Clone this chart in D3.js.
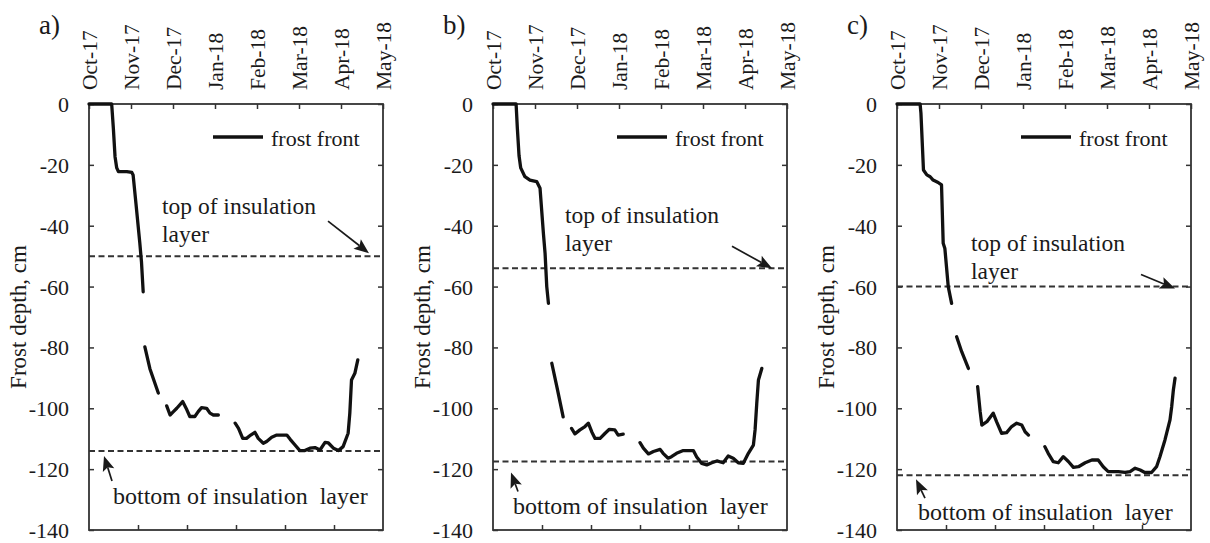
<!DOCTYPE html>
<html><head><meta charset="utf-8">
<script src="https://cdn.jsdelivr.net/npm/d3@7"></script>
<style>
body{margin:0;background:#fff}
svg{display:block;background:#fff}
svg text{font-family:"Liberation Serif","DejaVu Serif","Noto Serif",serif !important;fill:#1a1a1a}
</style>
</head><body>
<svg id="chart" width="1210" height="543"></svg>
<script>
// ---------------- data ----------------
const months = ["Oct-17","Nov-17","Dec-17","Jan-18","Feb-18","Mar-18","Apr-18","May-18"];
const depthTicks = [0,-20,-40,-60,-80,-100,-120,-140];
const panelLabels = ["a)","b)","c)"];
const topInsulation = [-50,-54,-60];        // cm
const bottomInsulation = [-114,-117.5,-122]; // cm
const legendLabel = "frost front";
const yTitle = "Frost depth, cm";
const topNote = ["top of insulation","layer"];
const bottomNote = "bottom of insulation  layer";

// frost front: [months since 1 Oct 2017, depth cm]; null = data gap
const frostA = [[0,0],[0.54,0],[0.58,-8],[0.62,-17.3],[0.66,-21],[0.70,-22.2],[0.90,-22.2],[1.02,-22.5],[1.05,-23.3],[1.12,-33],[1.21,-45.7],[1.25,-52],[1.29,-61.7],
  null,[1.33,-79.8],[1.45,-87],[1.65,-95],
  null,[1.85,-99.2],[1.93,-102.2],[2.01,-101.1],[2.09,-100],[2.23,-97.8],[2.33,-100.5],[2.40,-102.7],[2.52,-102.7],[2.60,-101.1],[2.68,-99.8],[2.80,-100],[2.88,-101.6],[2.96,-102.2],[3.08,-102.2],
  null,[3.48,-104.9],[3.56,-106.6],[3.66,-109.9],[3.75,-109.9],[3.85,-108.8],[3.95,-107.9],[4.03,-109.9],[4.15,-111.5],[4.23,-110.9],[4.35,-109.5],[4.47,-108.8],[4.71,-108.8],[4.79,-110.2],[4.90,-112],[5.02,-113.9],[5.14,-113.9],[5.26,-113.1],[5.38,-112.9],[5.50,-113.7],[5.62,-111.2],[5.70,-111.4],[5.82,-113.1],[5.94,-113.9],[6.05,-112.6],[6.17,-108.2],[6.21,-101.6],[6.25,-90.7],[6.33,-88.5],[6.40,-84.1]];

const frostB = [[0,0],[0.55,0],[0.58,-8],[0.62,-17],[0.66,-21],[0.76,-23.9],[0.88,-25],[1.04,-25.5],[1.12,-27.7],[1.20,-42.5],[1.24,-49.1],[1.28,-60],[1.32,-65.5],
  null,[1.40,-85.2],[1.52,-92.9],[1.67,-102.8],
  null,[1.87,-106.6],[1.95,-108.4],[2.07,-107.1],[2.19,-106],[2.27,-104.9],[2.35,-107.7],[2.43,-109.9],[2.55,-109.9],[2.67,-108.2],[2.77,-106.9],[2.90,-107.1],[2.98,-108.8],[3.10,-108.5],
  null,[3.50,-111.3],[3.58,-113.1],[3.70,-115],[3.82,-114.2],[3.98,-113.5],[4.05,-114.8],[4.17,-116.4],[4.25,-115.9],[4.37,-114.8],[4.53,-113.9],[4.77,-113.9],[4.85,-116],[4.97,-118.1],[5.09,-118.6],[5.21,-117.9],[5.33,-117.3],[5.48,-117.9],[5.60,-115.7],[5.72,-116.4],[5.84,-117.9],[5.96,-118.1],[6.08,-114.8],[6.20,-112.1],[6.24,-107.1],[6.28,-98.4],[6.32,-90.7],[6.40,-86.9]];

const frostC = [[0,0],[0.55,0],[0.57,-3],[0.63,-21.7],[0.71,-23.3],[0.79,-23.9],[0.86,-25],[0.98,-25.8],[1.06,-26.6],[1.10,-45.8],[1.14,-47.5],[1.22,-60],[1.30,-65.5],
  null,[1.42,-76.5],[1.54,-81.4],[1.70,-86.9],
  null,[1.92,-92.9],[1.98,-101.1],[2.02,-105.5],[2.14,-104.4],[2.29,-101.6],[2.37,-104.4],[2.49,-108.2],[2.61,-108],[2.73,-106],[2.85,-104.9],[2.97,-105.5],[3.05,-107.7],[3.13,-108.8],
  null,[3.52,-112.6],[3.60,-114.8],[3.72,-117.5],[3.84,-117.9],[3.96,-115.9],[4.08,-117.5],[4.20,-119.4],[4.32,-119.2],[4.48,-117.9],[4.64,-117],[4.79,-117],[4.91,-119.2],[5.03,-120.8],[5.27,-120.8],[5.43,-121.1],[5.55,-120.8],[5.67,-119.7],[5.79,-120.3],[5.90,-121.1],[6.06,-121.1],[6.18,-119.2],[6.26,-115.9],[6.38,-110.4],[6.50,-103.8],[6.54,-99.5],[6.58,-94],[6.62,-90.1]];

const frostSeries = [frostA, frostB, frostC];

// ---------------- layout ----------------
const panelLeft = [89, 493, 897];
const W = 294, TOP = 104, BOTTOM = 530;
const FONT = '"Liberation Serif","DejaVu Serif","Noto Serif",serif';
// annotation placement per panel (pixels, relative to panel left / dashed line)
const annot = [
  {tx:73, ty:-42, at:[239,-35,280,-3], bx:24, by:53, ab:[23,30,15,5]},
  {tx:72, ty:-45, at:[239,-22,279,0],  bx:20, by:52, ab:[25,30,18,11]},
  {tx:74, ty:-36, at:[244,-12,278,2],  bx:21, by:45, ab:[28,23,19,4]}
];

const svg = d3.select("#chart");
const ink = "#1a1a1a";

function arrow(g, x1, y1, x2, y2) {
  const ang = Math.atan2(y2 - y1, x2 - x1);
  const len = 15, hw = 6;
  const bx = x2 - len * Math.cos(ang), by = y2 - len * Math.sin(ang);
  const nx = -Math.sin(ang) * hw, ny = Math.cos(ang) * hw;
  g.append("line").attr("x1",x1).attr("y1",y1).attr("x2",bx + 3*Math.cos(ang)).attr("y2",by + 3*Math.sin(ang))
    .attr("stroke",ink).attr("stroke-width",1.7);
  g.append("path")
    .attr("d",`M${x2},${y2} L${bx + nx},${by + ny} L${bx + 3*Math.cos(ang)},${by + 3*Math.sin(ang)} L${bx - nx},${by - ny} Z`)
    .attr("fill",ink);
}

panelLeft.forEach((L, i) => {
  const g = svg.append("g").attr("font-family", FONT);
  const x = d3.scaleLinear().domain([0, months.length - 1]).range([L, L + W]);
  const xb = d3.scaleLinear().domain([0, 6]).range([L, L + W]);
  const y = d3.scaleLinear().domain([0, -140]).range([TOP, BOTTOM]);

  // top axis with rotated month labels
  const ax = g.append("g").attr("transform",`translate(0,${TOP})`)
    .call(d3.axisTop(x).tickValues(d3.range(months.length)).tickSize(-5)
      .tickFormat(d => months[d]));
  ax.attr("font-family", FONT);
  ax.selectAll("text").attr("transform","rotate(-90)")
    .attr("x",14).attr("y",0).attr("dy","0.33em")
    .attr("text-anchor","start").style("font-size","21.5px");

  // left axis
  g.append("g").attr("transform",`translate(${L},0)`)
    .call(d3.axisLeft(y).tickValues(depthTicks).tickSize(-5).tickPadding(20)
      .tickFormat(d => String(d)))
    .attr("font-family", FONT)
    .selectAll("text").style("font-size","22px").attr("dy","0.34em");
  // right axis
  g.append("g").attr("transform",`translate(${L + W},0)`)
    .call(d3.axisRight(y).tickValues(depthTicks).tickSize(-5).tickFormat(""));
  // bottom axis (6 divisions)
  g.append("g").attr("transform",`translate(0,${BOTTOM})`)
    .call(d3.axisBottom(xb).tickValues([1,2,3,4,5]).tickSize(-5).tickFormat(""));

  g.selectAll(".domain").remove();
  g.selectAll(".tick line").attr("stroke","#333").attr("stroke-width",1.5);
  g.selectAll(".tick text").attr("fill",ink).style("font-family", FONT);

  // frame
  g.append("rect").attr("x",L).attr("y",TOP).attr("width",W).attr("height",BOTTOM - TOP)
    .attr("fill","none").attr("stroke","#333").attr("stroke-width",1.8);

  // insulation lines
  [topInsulation[i], bottomInsulation[i]].forEach(v => {
    g.append("line").attr("x1",L).attr("x2",L + W).attr("y1",y(v)).attr("y2",y(v))
      .attr("stroke","#333").attr("stroke-width",2).attr("stroke-dasharray","6,3.5");
  });

  // frost front
  const line = d3.line().defined(d => d).x(d => x(d[0])).y(d => y(d[1]));
  g.append("path").datum(frostSeries[i]).attr("d",line)
    .attr("fill","none").attr("stroke","#111").attr("stroke-width",3.3)
    .attr("stroke-linejoin","round").attr("stroke-linecap","round");

  // legend
  g.append("line").attr("x1",L + 124).attr("x2",L + 174).attr("y1",TOP + 33).attr("y2",TOP + 33)
    .attr("stroke","#111").attr("stroke-width",3.3);
  g.append("text").attr("x",L + 182).attr("y",TOP + 42).style("font-size","22px").text(legendLabel);

  // panel label
  g.append("text").attr("x",L - 50).attr("y",34).style("font-size","27px").text(panelLabels[i]);

  // y title
  g.append("text").attr("transform",`translate(${L - 63},${(TOP + BOTTOM) / 2}) rotate(-90)`)
    .attr("text-anchor","middle").style("font-size","23px").text(yTitle);

  // top annotation
  const a = annot[i];
  const yt = y(topInsulation[i]);
  g.append("text").attr("x",L + a.tx).attr("y",yt + a.ty).style("font-size","23.5px").text(topNote[0]);
  g.append("text").attr("x",L + a.tx).attr("y",yt + a.ty + 28).style("font-size","23.5px").text(topNote[1]);
  arrow(g, L + a.at[0], yt + a.at[1], L + a.at[2], yt + a.at[3]);

  // bottom annotation
  const yb = y(bottomInsulation[i]);
  g.append("text").attr("x",L + a.bx).attr("y",yb + a.by).style("font-size","24px")
    .style("white-space","pre").attr("xml:space","preserve").text(bottomNote);
  arrow(g, L + a.ab[0], yb + a.ab[1], L + a.ab[2], yb + a.ab[3]);
});
</script>
</body></html>
